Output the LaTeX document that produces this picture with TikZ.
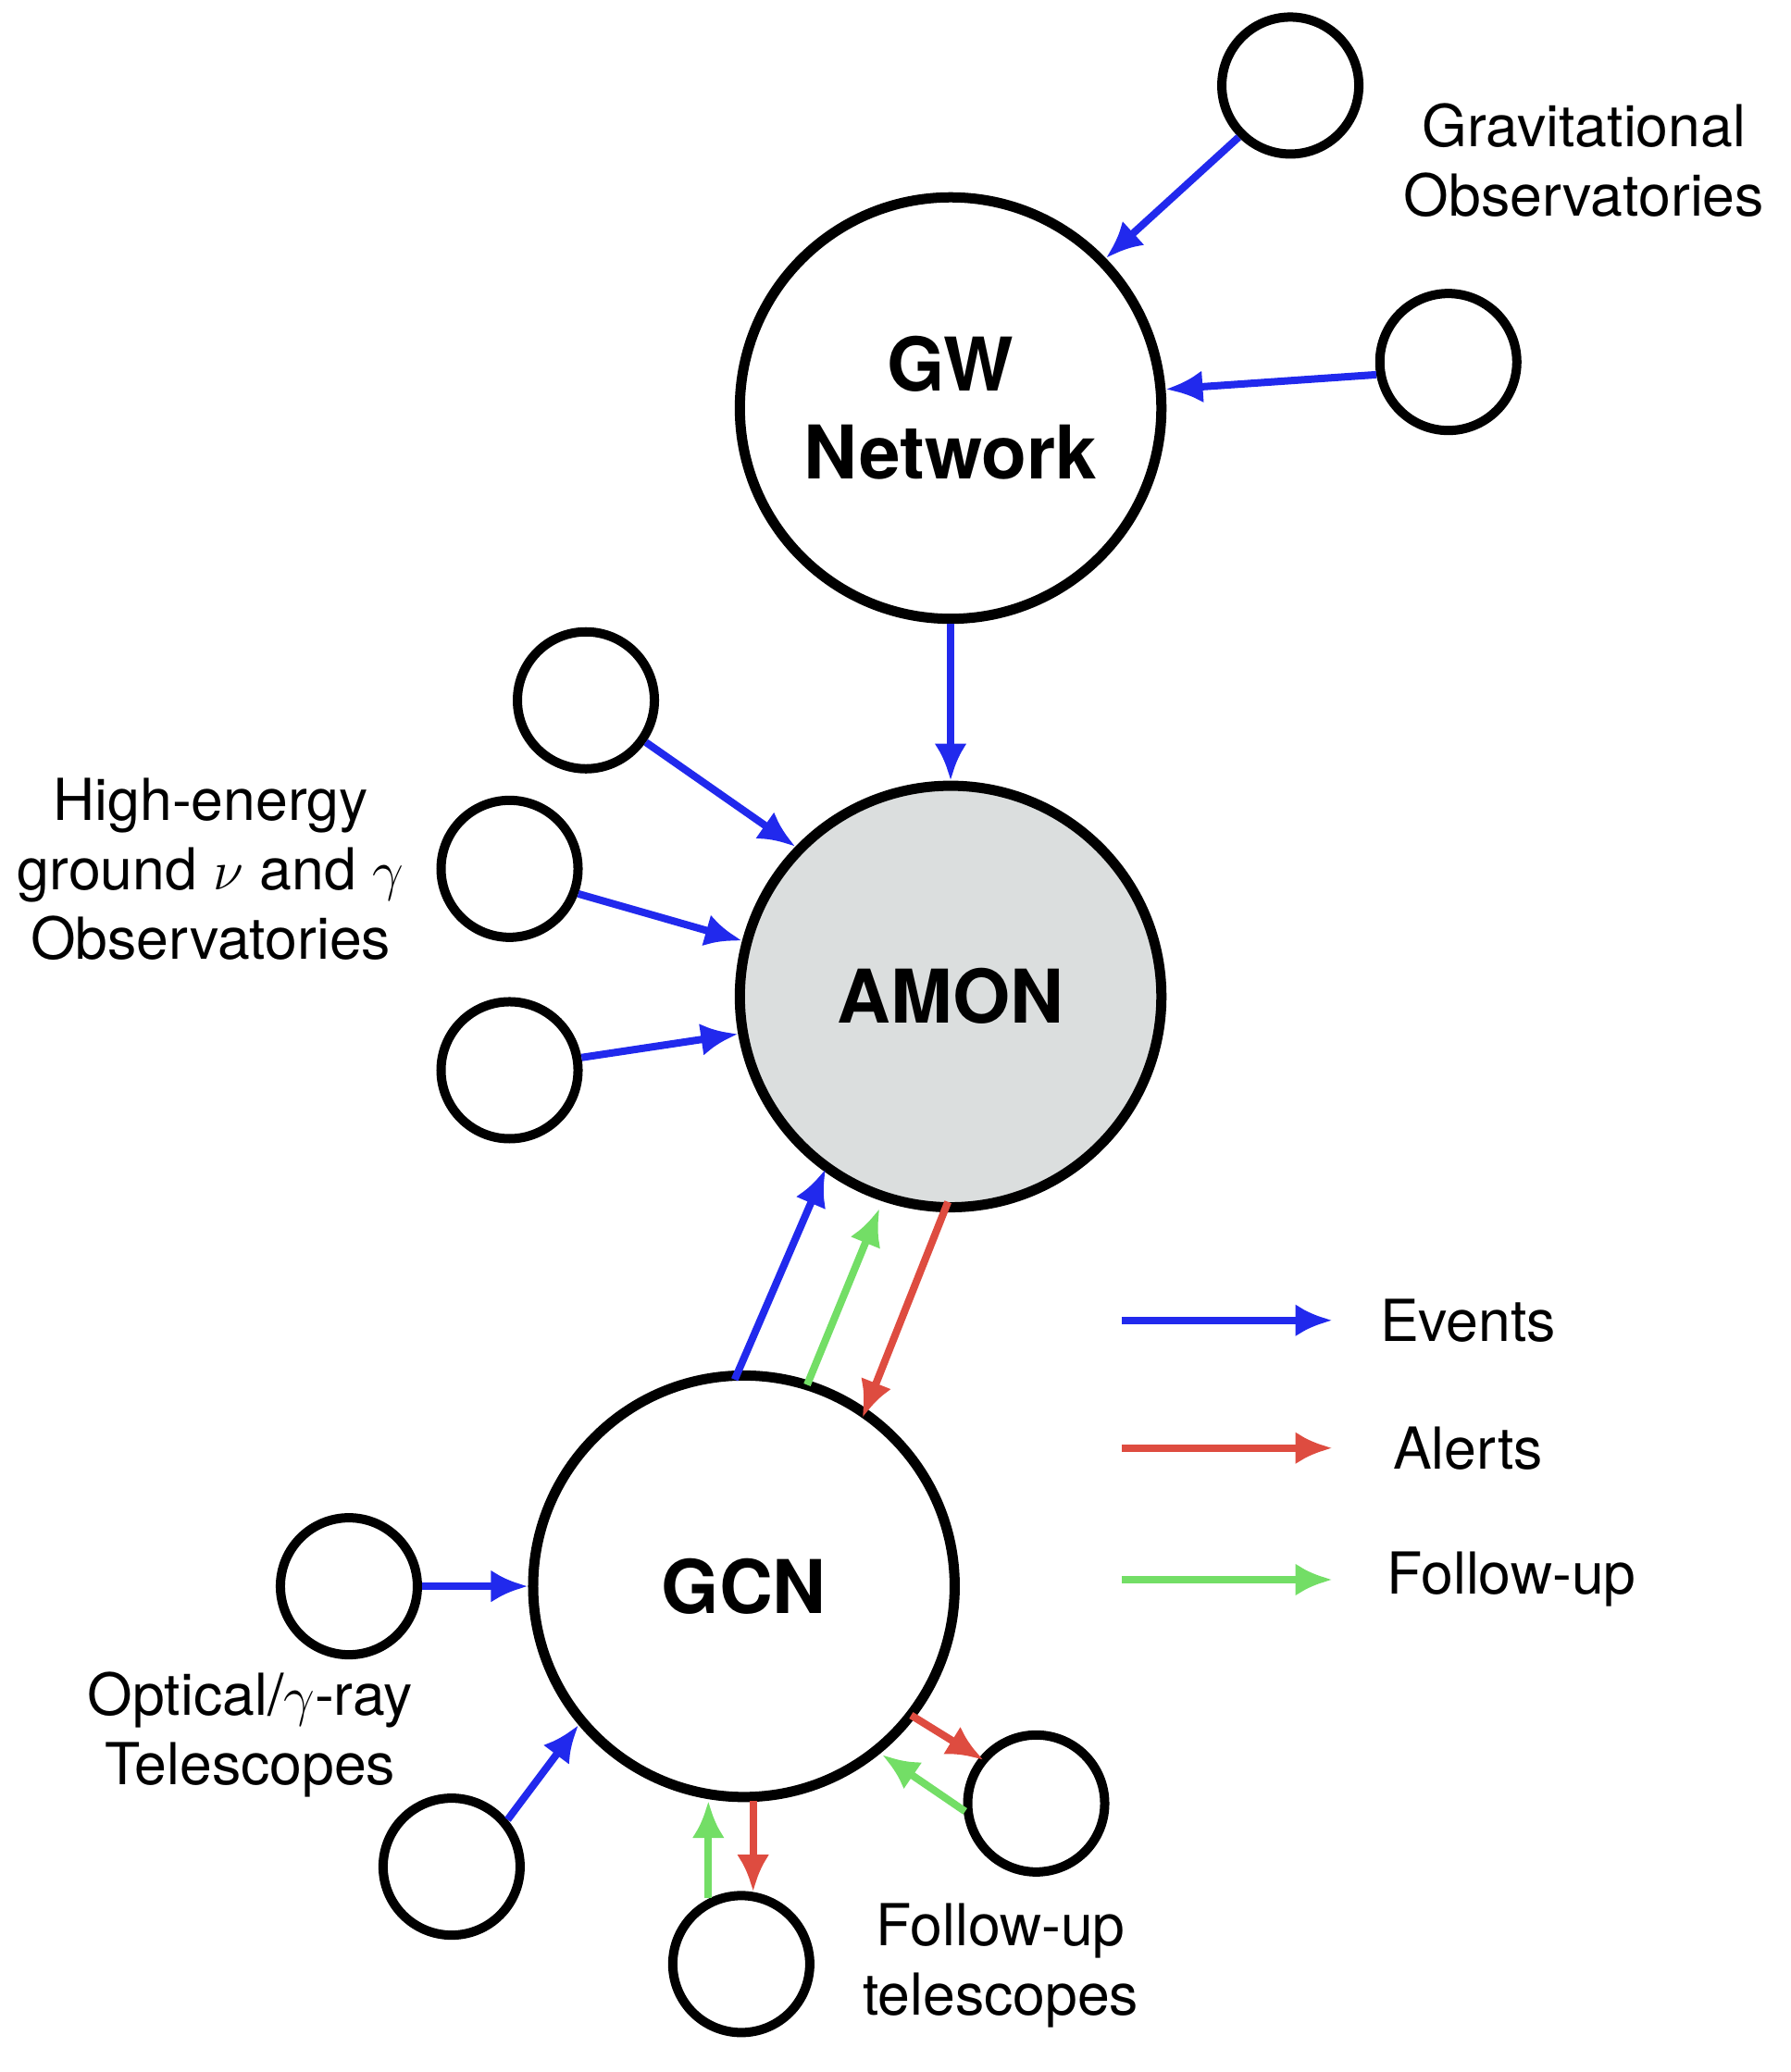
\documentclass[tikz,border=0pt]{standalone}
\usepackage{fontspec}
\setmainfont{TeX Gyre Heros}
\usetikzlibrary{arrows.meta}
\definecolor{evblue}{rgb}{0.13,0.16,0.93}
\definecolor{alred}{rgb}{0.87,0.30,0.25}
\definecolor{fugreen}{rgb}{0.45,0.87,0.40}
\definecolor{amongray}{rgb}{0.86,0.87,0.87}
\tikzset{
  hub/.style={circle,draw,line width=2.2pt,minimum size=3.2cm,inner sep=0pt,font=\fontsize{16}{19}\selectfont\bfseries,align=center},
  obs/.style={circle,draw,line width=2pt,minimum size=1.04cm,inner sep=0pt},
  lab/.style={font=\fontsize{12.5}{15}\selectfont,align=center},
  ev/.style={evblue,line width=1.6pt,-{Latex[length=8pt,width=7pt]}},
  al/.style={alred,line width=1.6pt,-{Latex[length=8pt,width=7pt]}},
  fu/.style={fugreen,line width=1.6pt,-{Latex[length=8pt,width=7pt]}}
}
\begin{document}
\begin{tikzpicture}[x=0.01cm,y=-0.01cm]
  \useasboundingbox (0,0) rectangle (1360,1574);
  % hubs
  \node[hub] (gw) at (722,310) {GW\\Network};
  \node[hub,fill=amongray] (amon) at (722,757) {AMON};
  \node[hub] (gcn) at (565,1205) {GCN};

  % gravitational observatories
  \node[obs] (g1) at (980,65) {};
  \node[obs] (g2) at (1100,275) {};
  \node[lab] (glab) at (1203,122) {Gravitational\\Observatories};
  \draw[ev] (g1.225) -- (gw.44);
  \draw[ev] (g2.190) -- (gw.5);
  \draw[ev] (gw.south) -- (amon.north);

  % high-energy observatories
  \node[obs] (h1) at (445,532) {};
  \node[obs] (h2) at (387,660) {};
  \node[obs] (h3) at (387,813) {};
  \node[lab] (hlab) at (160,660) {High-energy\\ground $\nu$ and $\gamma$\\Observatories};
  \draw[ev] (h1.-35) -- (amon.136);
  \draw[ev] (h2.-20) -- (amon.165);
  \draw[ev] (h3.10) -- (amon.190);

  % GCN <-> AMON
  \coordinate (b0) at (558,1048);
  \coordinate (b1) at (627,888);
  \coordinate (f0) at (613,1052);
  \coordinate (f1) at (668,918);
  \coordinate (r0) at (720,913);
  \coordinate (r1) at (655,1077);
  \draw[ev] (b0) -- (b1);
  \draw[fu] (f0) -- (f1);
  \draw[al] (r0) -- (r1);

  % optical telescopes
  \node[obs] (o1) at (265,1205) {};
  \node[obs] (o2) at (343,1418) {};
  \node[lab] (olab) at (190,1318) {Optical/$\gamma$-ray\\Telescopes};
  \draw[ev] (o1.east) -- (gcn.180);
  \draw[ev] (o2.40) -- (gcn.220);

  % follow-up telescopes
  \node[obs] (t1) at (563,1492) {};
  \node[obs] (t2) at (787,1370) {};
  \node[lab] (tlab) at (760,1493) {Follow-up\\telescopes};
  \coordinate (tg0) at (538,1442);
  \coordinate (tg1) at (538,1368);
  \coordinate (tr0) at (572,1368);
  \coordinate (tr1) at (572,1437);
  \draw[fu] (tg0) -- (tg1);
  \draw[al] (tr0) -- (tr1);
  \coordinate (sr0) at (692,1303);
  \coordinate (sr1) at (747,1337);
  \coordinate (sg0) at (733,1376);
  \coordinate (sg1) at (670,1333);
  \draw[al] (sr0) -- (sr1);
  \draw[fu] (sg0) -- (sg1);

  % legend
  \coordinate (le0) at (852,1003); \coordinate (le1) at (1012,1003);
  \coordinate (la0) at (852,1100); \coordinate (la1) at (1012,1100);
  \coordinate (lf0) at (852,1200); \coordinate (lf1) at (1012,1200);
  \draw[ev] (le0) -- (le1);
  \draw[al] (la0) -- (la1);
  \draw[fu] (lf0) -- (lf1);
  \node[lab] (lev) at (1115,1003) {Events};
  \node[lab] (lal) at (1115,1100) {Alerts};
  \node[lab] (lfu) at (1148,1200) {Follow-up};
\end{tikzpicture}
\end{document}
